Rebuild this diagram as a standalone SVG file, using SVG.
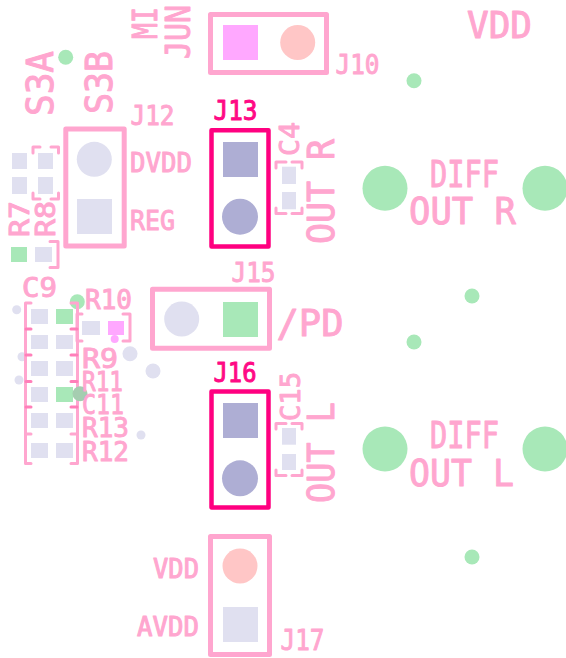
<svg xmlns="http://www.w3.org/2000/svg" width="566" height="658" viewBox="0 0 566 658">
<style>
text{font-family:"DejaVu Sans Mono","Liberation Mono",monospace;fill:#ffa6cf;stroke:#ffa6cf;stroke-width:1;stroke-linejoin:round;stroke-linecap:round}
text.d{fill:#ff0a85;stroke:#ff0a85}
.f{fill:none;stroke:#ffa6cf;stroke-width:5;stroke-linejoin:round}
.h{fill:none;stroke:#ff0080;stroke-width:4.500;stroke-linejoin:round}
.b{fill:none;stroke:#ffa6cf;stroke-width:3;stroke-linejoin:round;stroke-linecap:round}
.t{fill:none;stroke:#ff7fb9;stroke-width:3;stroke-linecap:round}
.g{fill:#a8e8b8}.e{fill:#e0e0f0}.v{fill:#aeaed4}.m{fill:#ffa8ff}.p{fill:#ffc6c6}
.s{font-size:27px}.l{font-size:37px}.r{font-size:33px}
</style>
<rect width="566" height="658" fill="#fff"/>
<g id="vias">
<circle class="g" cx="65.700" cy="57.300" r="7.500"/><circle class="g" cx="414" cy="80.700" r="7.500"/><circle class="g" cx="472" cy="296" r="7.500"/><circle class="g" cx="414" cy="342" r="7.500"/><circle class="g" cx="472" cy="557" r="7.500"/>
<circle class="g" cx="77.300" cy="301.700" r="7.500"/>
<circle class="e" cx="16.700" cy="309.700" r="4.500"/><circle class="e" cx="22" cy="356.700" r="4.500"/><circle class="e" cx="19" cy="380" r="4.500"/><circle class="e" cx="130" cy="353.700" r="7.500"/><circle class="e" cx="153" cy="371" r="7.500"/><circle class="e" cx="141" cy="435" r="4.500"/>
<circle class="m" cx="114.700" cy="339" r="4"/>
</g>
<g id="diff-pads">
<circle class="g" cx="385" cy="188.300" r="22.500"/><circle class="g" cx="545" cy="188.300" r="22.500"/><circle class="g" cx="385" cy="449" r="22.500"/><circle class="g" cx="545" cy="449" r="22.500"/>
</g>
<g id="J10"><rect class="f" x="210.500" y="14.500" width="116" height="58"/><rect class="m" x="223" y="25" width="35" height="35"/><circle class="p" cx="297.700" cy="42.500" r="17.500"/><text class="s" x="335.500" y="73.500" textLength="44" lengthAdjust="spacingAndGlyphs">J10</text></g>
<g id="J12"><rect class="f" x="65.800" y="129" width="58.400" height="117"/><circle class="e" cx="94.300" cy="159.300" r="17.500"/><rect class="e" x="77" y="199" width="35" height="35"/><text class="s" x="130.500" y="124.500" textLength="44" lengthAdjust="spacingAndGlyphs">J12</text><text class="s" x="130" y="171.500" textLength="62" lengthAdjust="spacingAndGlyphs">DVDD</text><text class="s" x="130" y="229.500" textLength="45" lengthAdjust="spacingAndGlyphs">REG</text></g>
<g id="J13"><rect class="h" x="211.500" y="130.300" width="57" height="116.200"/><rect class="v" x="223" y="142" width="35" height="35"/><circle class="v" cx="240" cy="216.700" r="18"/><text class="s d" x="213.500" y="119.500" textLength="44" lengthAdjust="spacingAndGlyphs">J13</text></g>
<g id="J15"><rect class="f" x="152.500" y="289.200" width="117" height="59"/><circle class="e" cx="181.700" cy="319" r="17.500"/><rect class="g" x="223" y="302" width="35" height="35"/><text class="s" x="231.500" y="281.500" textLength="44" lengthAdjust="spacingAndGlyphs">J15</text><text style="font-size:38px" x="276.500" y="335.500" textLength="67" lengthAdjust="spacingAndGlyphs">/PD</text></g>
<g id="J16"><rect class="h" x="211.500" y="391.500" width="57" height="116"/><rect class="v" x="223" y="403" width="35" height="35"/><circle class="v" cx="240" cy="478.300" r="18"/><text class="s d" x="213.500" y="381.500" textLength="43" lengthAdjust="spacingAndGlyphs">J16</text></g>
<g id="J17"><rect class="f" x="210.500" y="536.500" width="59" height="118"/><circle class="p" cx="240" cy="566" r="17.500"/><rect class="e" x="223" y="607" width="35" height="35"/><text class="s" x="153" y="577.500" textLength="46" lengthAdjust="spacingAndGlyphs">VDD</text><text class="s" x="137" y="635.500" textLength="62" lengthAdjust="spacingAndGlyphs">AVDD</text><text class="s" style="font-size:29px" x="280.500" y="649.500" textLength="44" lengthAdjust="spacingAndGlyphs">J17</text></g>
<g id="C4"><rect class="e" x="282" y="166.700" width="14" height="17.300"/><rect class="e" x="282" y="192" width="14" height="17.300"/><path class="b" d="M276 168V162H286M292 162H302V168M276 208V213.500H286M292 213.500H302V208"/><text class="s" transform="translate(298.500 156) rotate(-90)" textLength="34" lengthAdjust="spacingAndGlyphs">C4</text></g>
<g id="C15"><rect class="e" x="282" y="428" width="14" height="16.700"/><rect class="e" x="282" y="454" width="14" height="16"/><path class="b" d="M276 429V423.500H286M292 423.500H302V429M276 470V475.500H286M292 475.500H302V470"/><text class="s" transform="translate(299.500 421) rotate(-90)" textLength="49" lengthAdjust="spacingAndGlyphs">C15</text></g>
<g id="R7-R8"><rect class="e" x="12" y="153" width="15" height="16"/><rect class="e" x="12" y="177" width="15" height="17"/><rect class="e" x="38" y="153" width="15" height="16"/><rect class="e" x="38" y="177" width="15" height="17"/><rect class="g" x="11" y="247" width="16" height="15"/><rect class="e" x="35" y="247" width="17" height="15"/><path class="b" d="M33 153V147H40M51 147H58.500V153M33 193V199H40M51 199H58.500V193M50 241.500H58V267.500H50"/><text class="s" transform="translate(28.500 237) rotate(-90)" textLength="36" lengthAdjust="spacingAndGlyphs">R7</text><text class="s" transform="translate(54.500 237) rotate(-90)" textLength="36" lengthAdjust="spacingAndGlyphs">R8</text></g>
<g id="R10"><rect class="e" x="82" y="321" width="18" height="14"/><rect class="m" x="108" y="321" width="16" height="14"/><path class="b" d="M82 314H77V341H82M123 314H130V341H123"/><text class="s" x="85" y="308.500" textLength="47" lengthAdjust="spacingAndGlyphs">R10</text></g>
<g id="resistor-bank">
<rect class="e" x="31" y="309" width="17" height="15"/><rect class="g" x="56" y="309" width="17" height="15"/>
<rect class="e" x="31" y="335" width="17" height="14"/><rect class="e" x="56" y="335" width="17" height="14"/>
<rect class="e" x="31" y="361" width="17" height="15"/><rect class="e" x="56" y="361" width="17" height="15"/>
<rect class="e" x="31" y="387" width="17" height="15"/><rect class="g" x="56" y="387" width="17" height="15"/>
<rect class="e" x="31" y="413" width="17" height="15"/><rect class="e" x="56" y="413" width="17" height="15"/>
<rect class="e" x="31" y="443" width="17" height="15"/><rect class="e" x="56" y="443" width="17" height="15"/>
<path class="b" d="M31 303H25.500V463.500H31M71 303H77.500V463.500H71M25.500 434H31M71 434H77.500"/>
<path class="t" d="M26 329H31M26 355H31M26 381.500H31M26 407H31M71 329H77M71 355H77M71 381.500H77M71 407H77"/>
<circle cx="80" cy="393.700" r="7.500" fill="#a5cdb0"/>
<text class="s" x="22" y="296.500" textLength="35" lengthAdjust="spacingAndGlyphs">C9</text>
<text class="s" x="82" y="367.500" textLength="36" lengthAdjust="spacingAndGlyphs">R9</text>
<text class="s" x="82" y="390.500" textLength="41" lengthAdjust="spacingAndGlyphs">R11</text>
<text class="s" x="82" y="413.500" textLength="42" lengthAdjust="spacingAndGlyphs">C11</text>
<text class="s" x="82" y="436.500" textLength="47" lengthAdjust="spacingAndGlyphs">R13</text>
<text class="s" x="82" y="460.500" textLength="47" lengthAdjust="spacingAndGlyphs">R12</text>
</g>
<g id="labels">
<text class="r" transform="translate(156.500 39) rotate(-90)" textLength="32" lengthAdjust="spacingAndGlyphs">MI</text>
<text class="r" transform="translate(189.500 59) rotate(-90)" textLength="54" lengthAdjust="spacingAndGlyphs">JUN</text>
<text class="l" transform="translate(52.500 116) rotate(-90)" textLength="65" lengthAdjust="spacingAndGlyphs">S3A</text>
<text class="l" transform="translate(111.500 114) rotate(-90)" textLength="63" lengthAdjust="spacingAndGlyphs">S3B</text>
<text class="l" transform="translate(333.500 244) rotate(-90)" textLength="105" lengthAdjust="spacingAndGlyphs">OUT R</text>
<text class="l" transform="translate(333.500 503) rotate(-90)" textLength="101" lengthAdjust="spacingAndGlyphs">OUT L</text>
<text class="l" x="467" y="37.500" textLength="65" lengthAdjust="spacingAndGlyphs">VDD</text>
<text class="l" x="430" y="186.500" textLength="69" lengthAdjust="spacingAndGlyphs">DIFF</text>
<text class="l" x="409" y="223.500" textLength="107" lengthAdjust="spacingAndGlyphs">OUT R</text>
<text class="l" x="430" y="447.500" textLength="69" lengthAdjust="spacingAndGlyphs">DIFF</text>
<text class="l" x="409" y="485.500" textLength="105" lengthAdjust="spacingAndGlyphs">OUT L</text>
</g>
</svg>
